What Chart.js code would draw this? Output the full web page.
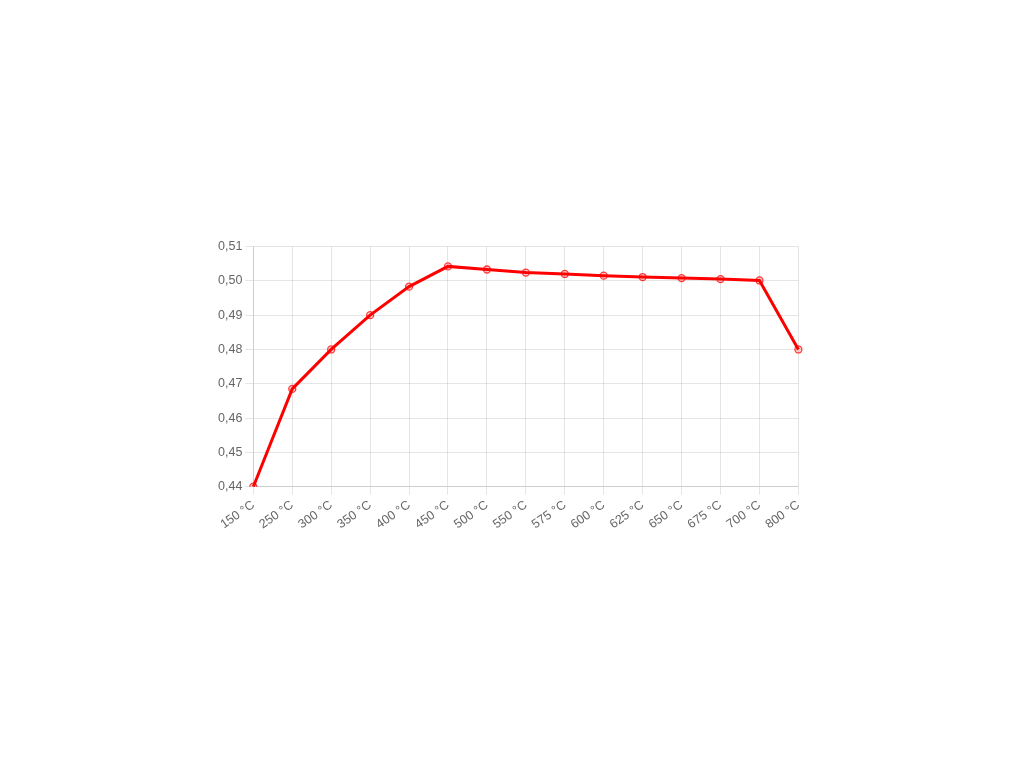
<!DOCTYPE html>
<html>
<head>
<meta charset="utf-8">
<script src="https://cdn.jsdelivr.net/npm/chart.js@4"></script>
<style>
  html, body { margin: 0; padding: 0; background: #fff; }
  #wrap { position: absolute; left: 215px; top: 236px; width: 595px; height: 299px; }
</style>
</head>
<body>
<div id="wrap"><canvas id="chart"></canvas></div>
<script>
// Data
const temperatures = ['150 °C', '250 °C', '300 °C', '350 °C', '400 °C', '450 °C', '500 °C',
  '550 °C', '575 °C', '600 °C', '625 °C', '650 °C', '675 °C', '700 °C', '800 °C'];
const values = [0.440, 0.4685, 0.480, 0.490, 0.4983, 0.5042, 0.5033,
  0.5024, 0.5020, 0.5015, 0.5011, 0.5008, 0.5005, 0.5001, 0.480];
const yMin = 0.44;
const yMax = 0.51;
const yStep = 0.01;

Chart.defaults.font.family = "'Helvetica Neue', Helvetica, Arial, 'Liberation Sans', sans-serif";
Chart.defaults.font.size = 12;
Chart.defaults.color = '#666';

const ctx = document.getElementById('chart').getContext('2d');
new Chart(ctx, {
  type: 'line',
  data: {
    labels: temperatures,
    datasets: [{
      data: values,
      borderColor: '#ff0000',
      backgroundColor: 'rgba(255, 0, 0, 0.25)',
      borderWidth: 3,
      pointRadius: 3.5,
      pointBorderWidth: 1.3,
      pointBorderColor: 'rgba(255, 0, 0, 0.75)',
      pointBackgroundColor: 'rgba(255, 0, 0, 0.2)',
      tension: 0,
      fill: false
    }]
  },
  options: {
    responsive: true,
    maintainAspectRatio: false,
    animation: false,
    plugins: {
      legend: { display: false },
      tooltip: { enabled: false }
    },
    scales: {
      x: {
        grid: { color: 'rgba(0, 0, 0, 0.1)' },
        ticks: { maxRotation: 35, minRotation: 35, color: '#666', font: { size: 12.5 } }
      },
      y: {
        min: yMin,
        max: yMax,
        grid: { color: 'rgba(0, 0, 0, 0.1)' },
        ticks: {
          stepSize: yStep,
          color: '#666',
          font: { size: 12.5 },
          callback: (value) => value.toFixed(2).replace('.', ',')
        }
      }
    }
  }
});
</script>
</body>
</html>
